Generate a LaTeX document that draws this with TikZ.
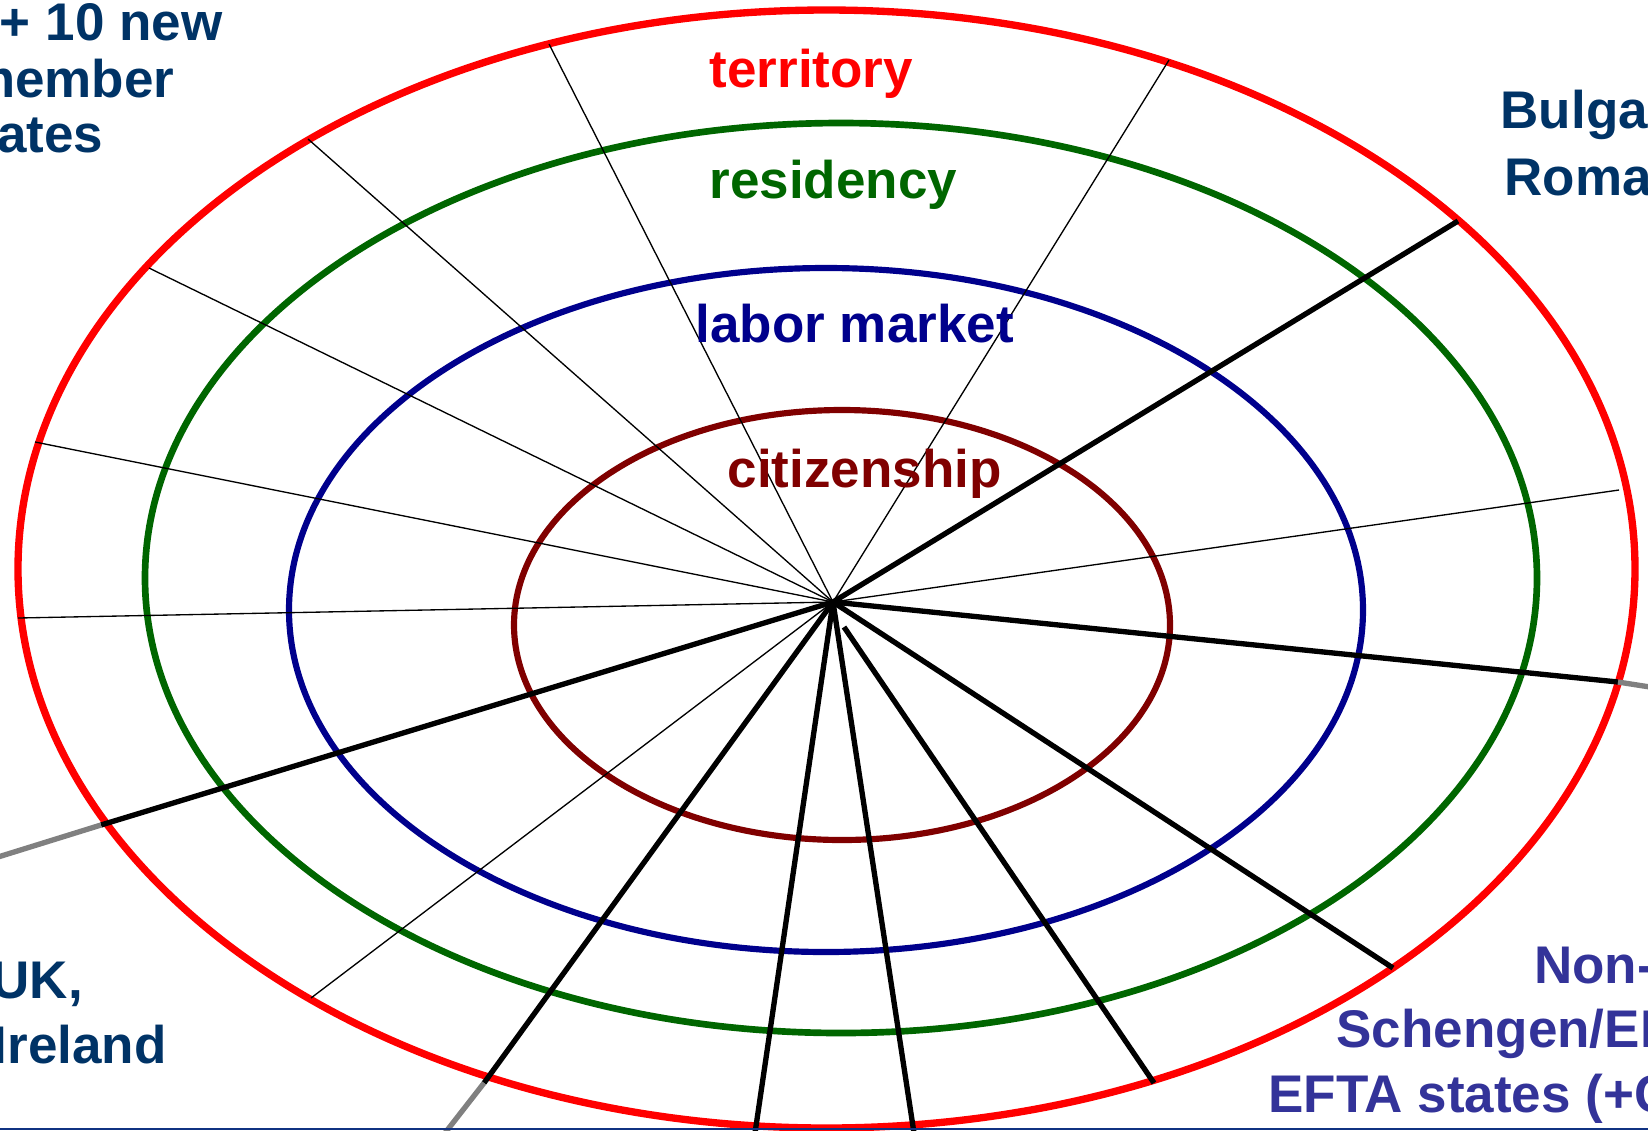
\documentclass[tikz,border=0pt]{standalone}
\usepackage{fontspec}
\setmainfont{Liberation Sans}
\definecolor{cred}{RGB}{255,0,0}
\definecolor{cgreen}{RGB}{0,102,0}
\definecolor{cblue}{RGB}{0,0,140}
\definecolor{cmaroon}{RGB}{128,0,0}
\definecolor{navy}{RGB}{0,51,102}
\definecolor{indig}{RGB}{51,51,153}
\definecolor{cgray}{RGB}{128,128,128}
\definecolor{rule}{RGB}{16,50,130}
\begin{document}
\begin{tikzpicture}[x=0.3pt,y=-0.3pt,
  thinspoke/.style={black,line width=0.4pt},
  thickspoke/.style={black,line width=1.6pt},
  greyspoke/.style={cgray,line width=1.6pt},
  lbl/.style={inner sep=0pt,font=\fontsize{15.9}{19}\selectfont\bfseries}]
\useasboundingbox (0,0) rectangle (1648,1130);
% rings
\draw[cred,line width=2.2pt] (826.5,569) ellipse [x radius=808.5, y radius=559];
\draw[cgreen,line width=2pt] (841,578) ellipse [x radius=696, y radius=455];
\draw[cblue,line width=1.85pt] (826,610) ellipse [x radius=537, y radius=342];
\draw[cmaroon,line width=1.85pt] (842,625) ellipse [x radius=328, y radius=215];
% hub and spoke ends
\coordinate (h) at (833,602);
\coordinate (h15) at (844,627);
\coordinate (e1) at (549,44);
\coordinate (e2) at (1169,60);
\coordinate (e3) at (308,139);
\coordinate (e4) at (149,268);
\coordinate (e5) at (35,442);
\coordinate (e6) at (18,618);
\coordinate (e7) at (1619,490);
\coordinate (e8) at (311,998);
\coordinate (e9) at (1458,221);
\coordinate (e10) at (1618,682);
\coordinate (g10) at (1650,687);
\coordinate (e11) at (101,825);
\coordinate (g11) at (-2,857);
\coordinate (e12) at (484,1083);
\coordinate (g12) at (445,1133);
\coordinate (e13) at (755,1133);
\coordinate (e14) at (914,1133);
\coordinate (e15) at (1154,1083);
\coordinate (e16) at (1393,968);
% thin spokes
\foreach \e in {e1,e2,e3,e4,e5,e6,e7,e8}
  \draw[thinspoke] (h) -- (\e);
% thick spokes
\foreach \e in {e9,e10,e11,e12,e13,e14,e16}
  \draw[thickspoke] (h) -- (\e);
\draw[thickspoke] (h15) -- (e15);
\draw[greyspoke] (e10) -- (g10);
\draw[greyspoke] (e11) -- (g11);
\draw[greyspoke] (e12) -- (g12);
% bottom rule
\coordinate (r1) at (0,1129);
\coordinate (r2) at (1648,1129);
\draw[rule,line width=0.6pt] (r1) -- (r2);
% ring labels
\node[lbl,text=cred,anchor=base west] (territory) at (709,87) {territory};
\node[lbl,text=cgreen,anchor=base west] (residency) at (709,198) {residency};
\node[lbl,text=cblue,anchor=base west] (labor) at (695,342) {labor market};
\node[lbl,text=cmaroon,anchor=base west] (citizen) at (727,487) {citizenship};
% corner labels
\node[lbl,text=navy,anchor=base east] (new1) at (223,40) {+ 10 new};
\node[lbl,text=navy,anchor=base east] (new2) at (175,97) {member};
\node[lbl,text=navy,anchor=base east] (new3) at (104,152) {states};
\node[lbl,text=navy,anchor=base west] (bg) at (1500,128) {Bulgaria,};
\node[lbl,text=navy,anchor=base west] (ro) at (1504,195) {Romania};
\node[lbl,text=navy,anchor=base west] (uk) at (-9,998) {UK,};
\node[lbl,text=navy,anchor=base west] (ie) at (-8,1063) {Ireland};
\node[lbl,text=indig,anchor=base east] (ns1) at (1729,983) {Non-EU};
\node[lbl,text=indig,anchor=base east] (ns2) at (1729,1047) {Schengen/EEA/};
\node[lbl,text=indig,anchor=base east] (ns3) at (1729,1112) {EFTA states (+CH)};
\end{tikzpicture}
\end{document}
